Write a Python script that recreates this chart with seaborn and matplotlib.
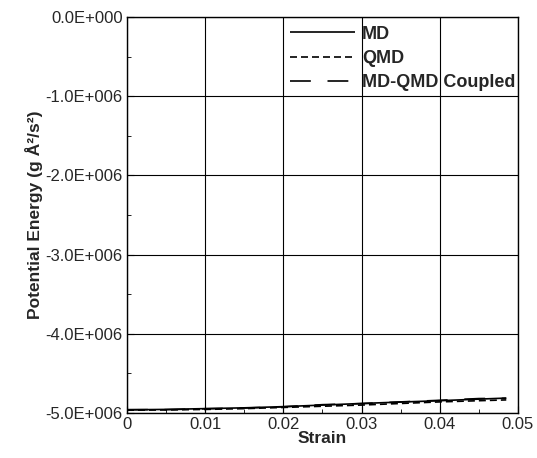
import numpy as np
import pandas as pd
import matplotlib
matplotlib.use("Agg")
import matplotlib.pyplot as plt
import seaborn as sns
from matplotlib.ticker import MultipleLocator, FuncFormatter

strain = [0.0, 0.005, 0.01, 0.015, 0.02, 0.025, 0.03, 0.035, 0.04, 0.045, 0.0485]
md = [-4.960e6, -4.955e6, -4.945e6, -4.935e6, -4.920e6, -4.900e6, -4.880e6, -4.862e6, -4.845e6, -4.825e6, -4.812e6]
qmd = [-4.965e6, -4.962e6, -4.955e6, -4.945e6, -4.930e6, -4.915e6, -4.900e6, -4.880e6, -4.860e6, -4.845e6, -4.835e6]
coupled = [-4.958e6, -4.958e6, -4.947e6, -4.938e6, -4.922e6, -4.895e6, -4.882e6, -4.860e6, -4.840e6, -4.818e6, -4.815e6]
labels = ["MD", "QMD", "MD-QMD Coupled"]

df = pd.DataFrame({
    "Strain": strain * 3,
    "PE": md + qmd + coupled,
    "series": [labels[0]] * len(strain) + [labels[1]] * len(strain) + [labels[2]] * len(strain),
})

sns.set_style("white")
plt.rcParams["font.family"] = ["Liberation Sans", "DejaVu Sans"]

fig = plt.figure(figsize=(5.37, 4.58), dpi=100)
ax = fig.add_axes([0.2365, 0.0983, 0.7281, 0.8646])

styles = {"MD": (0, ()), "QMD": (0, (4.2, 2.4)), "MD-QMD Coupled": (0, (12.5, 10))}
for name in labels:
    sub = df[df["series"] == name]
    sns.lineplot(data=sub, x="Strain", y="PE", ax=ax, color="black", lw=1.2,
                 linestyle=styles[name], label=name)

ax.set_xlim(0, 0.05)
ax.set_ylim(-5.0e6, 0.0)
ax.xaxis.set_major_locator(MultipleLocator(0.01))
ax.xaxis.set_minor_locator(MultipleLocator(0.005))
ax.yaxis.set_major_locator(MultipleLocator(1.0e6))
ax.yaxis.set_minor_locator(MultipleLocator(0.5e6))
ax.xaxis.set_major_formatter(FuncFormatter(lambda v, p: "0" if abs(v) < 1e-12 else f"{v:.2f}"))
ax.yaxis.set_major_formatter(FuncFormatter(lambda v, p: "0.0E+000" if v == 0 else f"{v/1e6:.1f}E+006"))
ax.grid(True, which="major", color="black", lw=0.8)
ax.tick_params(which="both", direction="in", bottom=True, left=True, labelsize=12, color="black")
ax.tick_params(which="major", length=5, pad=3)
ax.tick_params(which="minor", length=3)
for s in ax.spines.values():
    s.set_color("black")
    s.set_linewidth(1.0)

ax.set_xlabel("Strain", fontsize=12.5, fontweight="bold", labelpad=-1)
ax.set_ylabel("Potential Energy (g Å²/s²)", fontsize=12.5, fontweight="bold", labelpad=2)

leg = ax.legend(loc="upper right", bbox_to_anchor=(1.015, 1.0), frameon=False,
                handlelength=3.6, handletextpad=0.4, labelspacing=0.4, borderaxespad=0.08,
                prop={"weight": "bold", "size": 13})

fig.savefig("out.png", dpi=100)
